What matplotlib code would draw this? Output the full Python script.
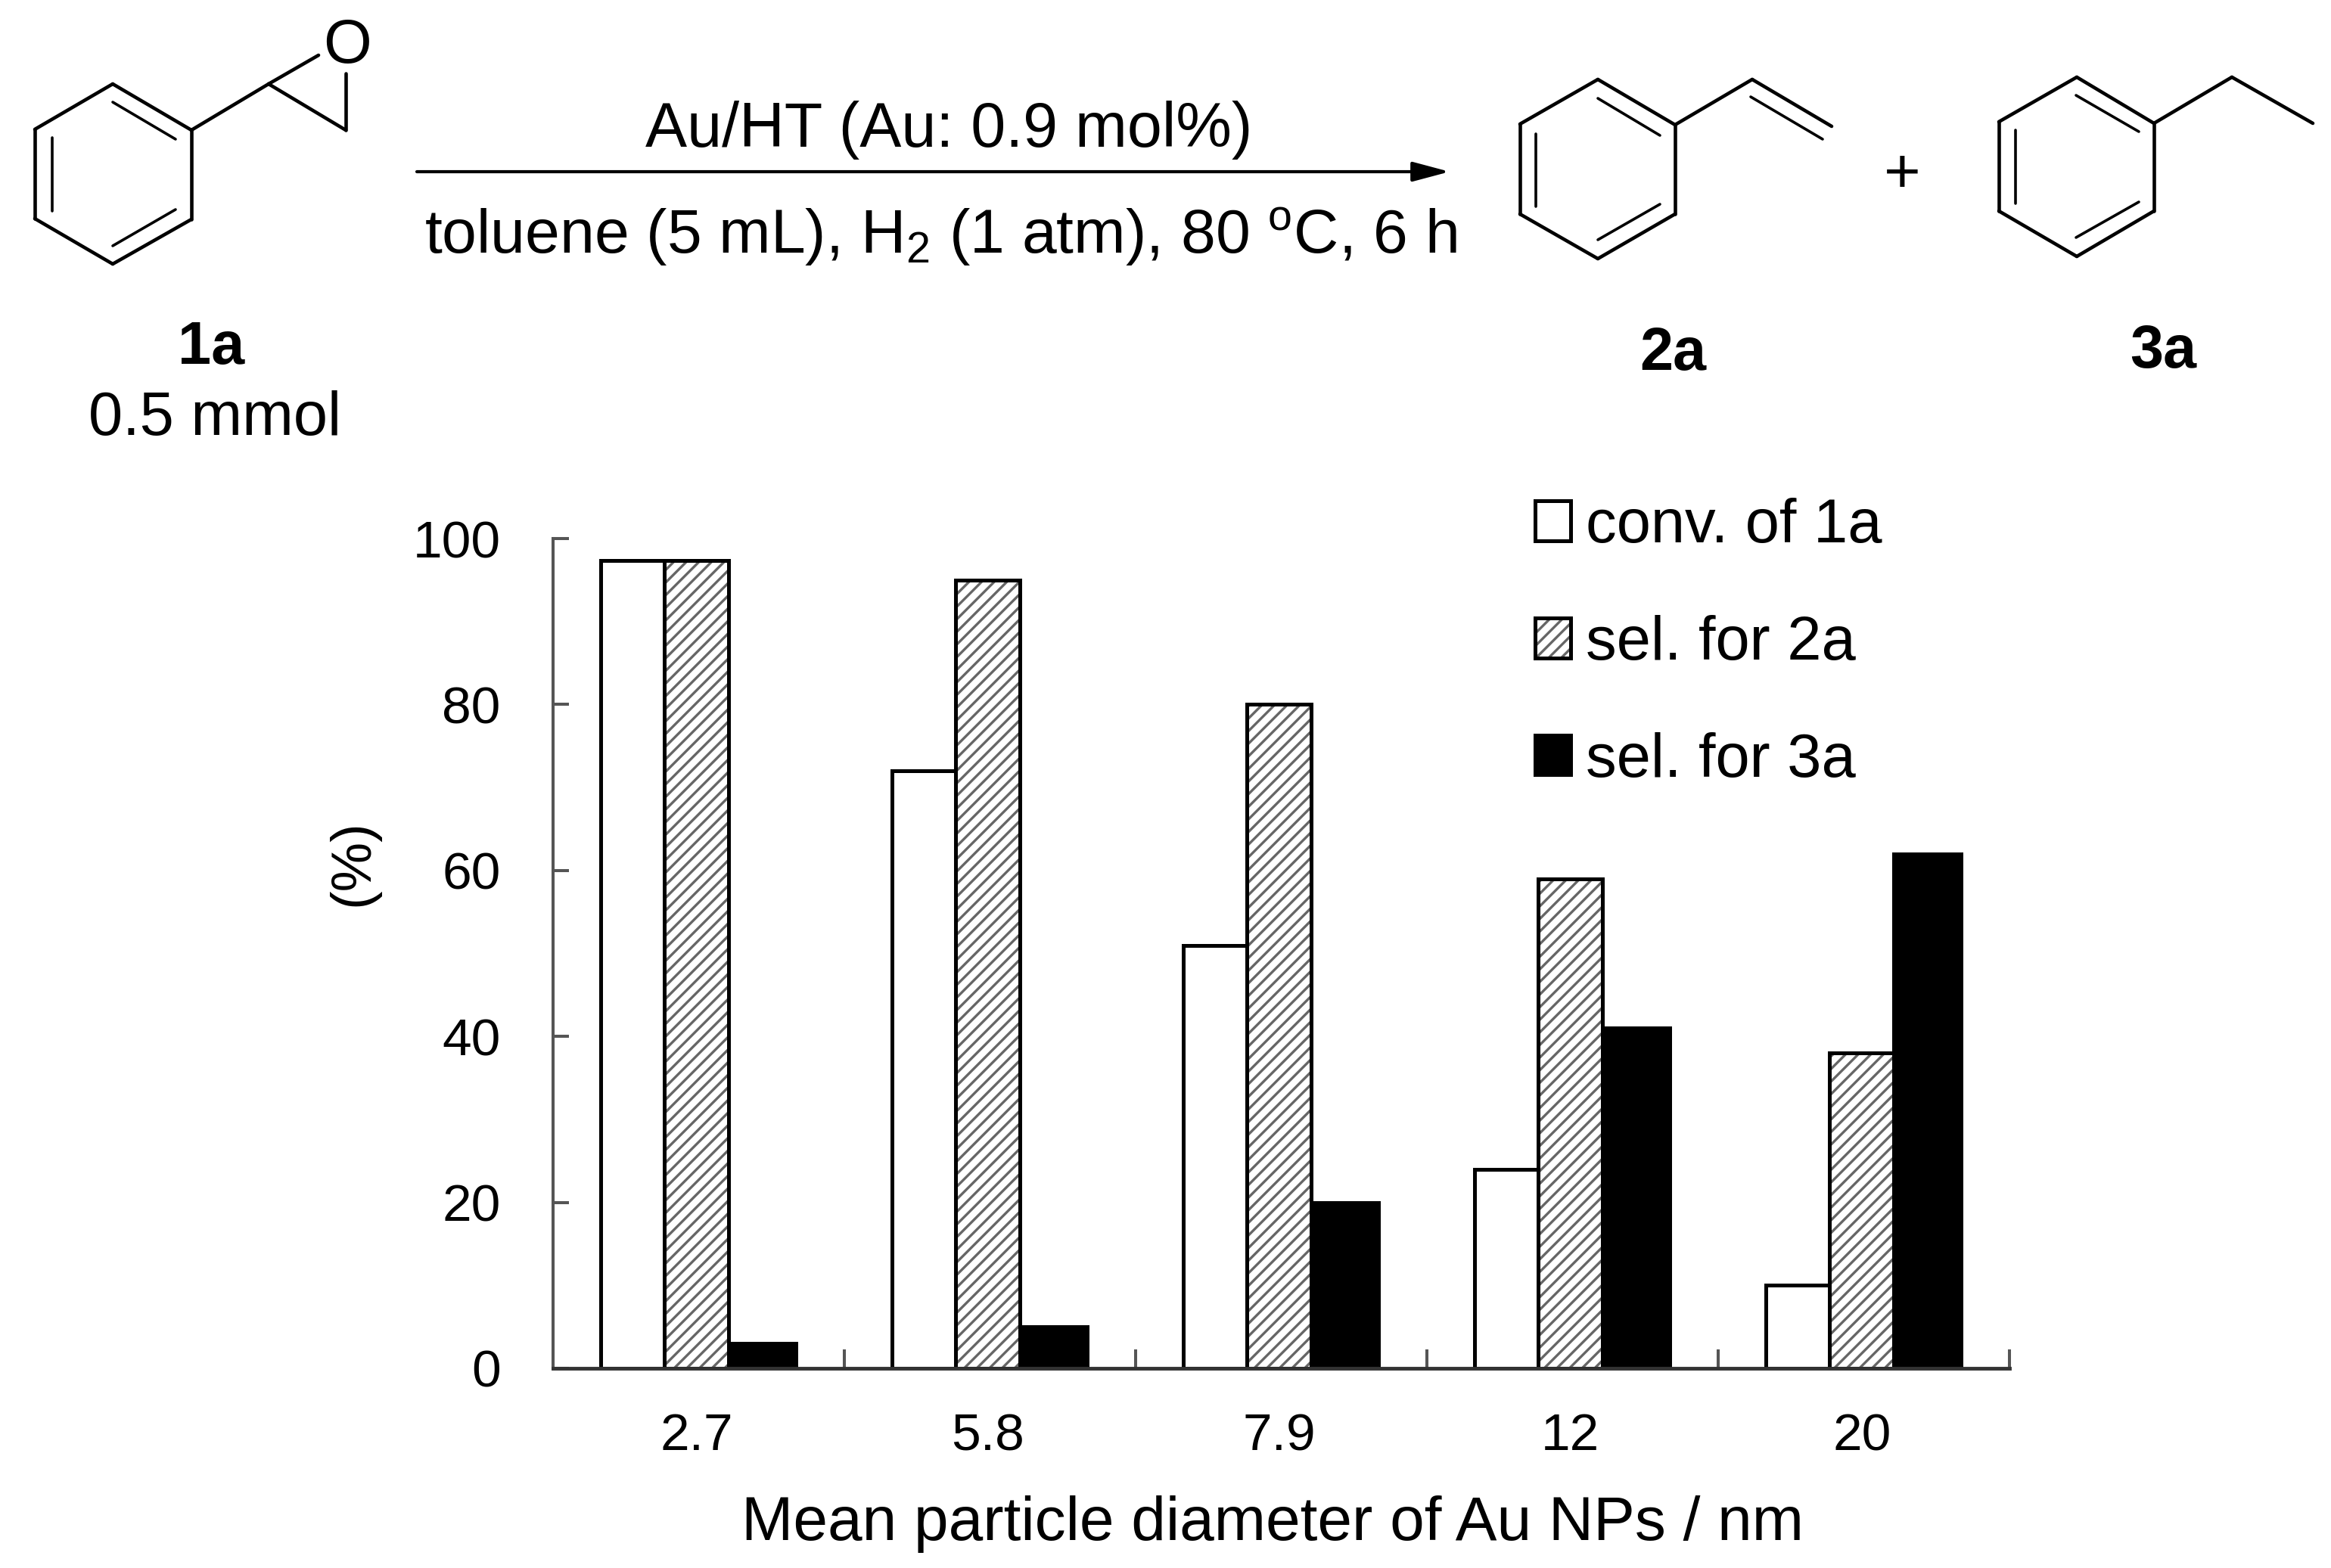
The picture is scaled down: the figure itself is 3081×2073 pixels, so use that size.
import matplotlib
matplotlib.use('Agg')
import matplotlib.pyplot as plt
from matplotlib.patches import Patch

plt.rcParams['font.family'] = ['Liberation Sans', 'DejaVu Sans']
plt.rcParams['mathtext.default'] = 'regular'
plt.rcParams['hatch.linewidth'] = 2.4

W, H = 3081, 2073

sizes = ['2.7', '5.8', '7.9', '12', '20']
conv_1a = [97.4, 72, 51, 24, 10]
sel_2a = [97.4, 95, 80, 59, 38]
sel_3a = [3, 5, 20, 41, 62]

fig = plt.figure(figsize=(W / 100, H / 100), dpi=100)

# scheme on top is drawn in image pixels
sk = fig.add_axes([0, 0, 1, 1])
sk.set_xlim(0, W)
sk.set_ylim(H, 0)
sk.axis('off')


def bonds(segs, lw=3.3):
  for (x0, y0, x1, y1) in segs:
    sk.plot([x0, x1], [y0, y1], color='black', lw=lw, solid_capstyle='round')


def ring(pts, inner):
  n = len(pts)
  for i in range(n):
    a = pts[i]
    b = pts[(i + 1) % n]
    bonds([(a[0], a[1], b[0], b[1])])
  bonds(inner, lw=2.6)


# 1a
ring([(46, 171), (149, 111), (253, 172), (253, 290), (149, 349), (46, 289)],
     [(149, 135, 232, 184), (69, 182, 69, 279), (149, 325, 232, 277)])
bonds([(253, 172, 355, 111), (355, 111, 421, 73), (355, 111, 457, 172), (457, 172, 457, 97)])
sk.text(459, 83, 'O', fontsize=59, ha='center', va='baseline')

# 2a
ring([(2009, 164), (2112, 105), (2214, 165), (2214, 283), (2112, 342), (2009, 283)],
     [(2112, 130, 2194, 179), (2030, 177, 2030, 273), (2112, 317, 2194, 270)])
bonds([(2214, 165, 2316, 105), (2316, 105, 2421, 167)])
bonds([(2314, 128, 2409, 184)], lw=2.6)

# 3a
ring([(2642, 161), (2745, 102), (2847, 163), (2847, 279), (2745, 339), (2642, 279)],
     [(2744, 126, 2827, 174), (2664, 172, 2664, 269), (2744, 314, 2827, 267)])
bonds([(2847, 163, 2950, 102), (2950, 102, 3057, 163)])

# arrow
sk.annotate('', xy=(1916, 227), xytext=(551, 227),
            arrowprops=dict(arrowstyle='-|>,head_length=1.5,head_width=0.4', color='black', lw=3.0,
                            shrinkA=0, shrinkB=0, mutation_scale=20))
sk.text(1254, 194, 'Au/HT (Au: 0.9 mol%)', fontsize=59.5, ha='center', va='baseline')
sk.text(1243, 335, 'toluene (5 mL), H$_2$ (1 atm), 80 $^{o}$C, 6 h', fontsize=59.2, ha='center', va='baseline')
sk.text(2514, 254, '+', fontsize=60, ha='center', va='baseline')

sk.text(279, 481, '1a', fontsize=57, fontweight='bold', ha='center', va='baseline')
sk.text(284, 575, '0.5 mmol', fontsize=58.5, ha='center', va='baseline')
sk.text(2211, 489, '2a', fontsize=57, fontweight='bold', ha='center', va='baseline')
sk.text(2859, 486, '3a', fontsize=57, fontweight='bold', ha='center', va='baseline')

# bar chart
left, right, top, bottom = 731, 2656, 712, 1809
ax = fig.add_axes([left / W, 1 - bottom / H, (right - left) / W, (bottom - top) / H])
ax.patch.set_alpha(0)
ax.set_xlim(0, 5)
ax.set_ylim(0, 100)

w = 0.22
shift = -0.007
centers = [i + 0.5 + shift for i in range(len(sizes))]
edge = 3.6
hatch_col = '#666666'
axis_col = '#555555'

ax.bar([c - w for c in centers], conv_1a, w, facecolor='white', edgecolor='black', lw=edge)
ax.bar(centers, sel_2a, w, facecolor='white', edgecolor=hatch_col, hatch='//', lw=0)
ax.bar(centers, sel_2a, w, fill=False, edgecolor='black', lw=edge)
# last bars look a little wider in the original
ax.bar([c + w / 2 for c in centers], sel_3a, w + 0.012, align='edge', facecolor='black', edgecolor='black', lw=edge)

for s in ['top', 'right']:
  ax.spines[s].set_visible(False)
ax.spines['left'].set_linewidth(2.9)
ax.spines['left'].set_color(axis_col)
ax.spines['bottom'].set_linewidth(3.5)
ax.spines['bottom'].set_color('#333333')

ax.set_xticks(range(6))
ax.set_xticklabels([])
ax.set_xticks(centers, minor=True)
ax.set_xticklabels(sizes, minor=True, fontsize=50)
ax.tick_params(axis='x', which='major', direction='in', length=18, width=2.9, color=axis_col)
ax.tick_params(axis='x', which='minor', length=0, pad=42)
ax.set_yticks([0, 20, 40, 60, 80, 100])
ax.tick_params(axis='y', direction='in', length=15, width=2.9, color=axis_col, labelsize=50, pad=50)
ax.set_ylabel('(%)', fontsize=53, va='center')
ax.yaxis.set_label_coords(-0.137, 0.609)
ax.set_xlabel('Mean particle diameter of Au NPs / nm', fontsize=59, labelpad=33, x=0.494)

handles = [Patch(facecolor='white', edgecolor='black', lw=edge),
           (Patch(facecolor='white', edgecolor=hatch_col, hatch='//', lw=0),
            Patch(fill=False, edgecolor='black', lw=edge)),
           Patch(facecolor='black', edgecolor='black', lw=edge)]
fig.legend(handles, ['conv. of 1a', 'sel. for 2a', 'sel. for 3a'], frameon=False, fontsize=58.5,
           loc='upper left', bbox_to_anchor=(2029 / W, 1 - 658 / H), borderpad=0, borderaxespad=0,
           handlelength=0.58, handleheight=0.62, handletextpad=0.24, labelspacing=0.97)

fig.savefig('out.png', dpi=100)
